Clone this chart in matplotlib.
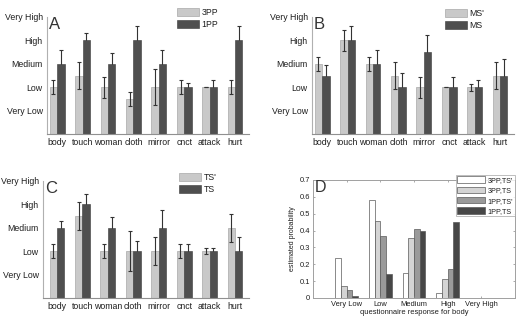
import numpy as np
import matplotlib
matplotlib.use("Agg")
from matplotlib import pyplot as plt
from matplotlib.patches import Patch

plt.rcParams['font.family'] = ['Liberation Sans', 'DejaVu Sans']

items = ["body", "touch", "woman", "cloth", "mirror", "cnct", "attack", "hurt"]
levels = ["Very Low", "Low", "Medium", "High", "Very High"]

# panel A: 3PP vs 1PP
a_3pp = [2, 2.5, 2, 1.5, 2, 2, 2, 2]
a_3pp_err = [0.3, 0.57, 0.45, 0.3, 0.77, 0.3, 0.0, 0.3]
a_1pp = [3, 4, 3, 4, 3, 2, 2, 4]
a_1pp_err = [0.6, 0.3, 0.45, 0.6, 0.6, 0.17, 0.3, 0.6]

# panel B: MS' vs MS
b_msp = [3, 4, 3, 2.5, 2, 2, 2, 2.5]
b_msp_err = [0.3, 0.45, 0.3, 0.57, 0.45, 0.0, 0.15, 0.57]
b_ms = [2.5, 4, 3, 2, 3.5, 2, 2, 2.5]
b_ms_err = [0.43, 0.6, 0.57, 0.6, 0.74, 0.45, 0.3, 0.71]

# panel C: TS' vs TS
c_tsp = [2, 3.5, 2, 2, 2, 2, 2, 3]
c_tsp_err = [0.3, 0.6, 0.3, 0.86, 0.6, 0.3, 0.14, 0.6]
c_ts = [3, 4, 3, 2, 3, 2, 2, 2]
c_ts_err = [0.3, 0.45, 0.45, 0.44, 0.74, 0.3, 0.15, 0.6]

# panel D: estimated probability of each response for "body"
d_labels = ["3PP,TS'", "3PP,TS", "1PP,TS'", "1PP,TS"]
d_3pp_tsp = [0.24, 0.58, 0.15, 0.03, 0.0]
d_3pp_ts = [0.07, 0.455, 0.355, 0.115, 0.0]
d_1pp_tsp = [0.045, 0.365, 0.41, 0.17, 0.0]
d_1pp_ts = [0.012, 0.14, 0.395, 0.45, 0.0]

W, H = 529, 325
light = "#c9c9c9"
dark = "#4f4f4f"
txt = "#1e1e1e"

fig = plt.figure(figsize=(W / 100, H / 100), dpi=100)


def ax_px(left, top, right, bottom):
    return fig.add_axes([left / W, 1 - bottom / H, (right - left) / W, (bottom - top) / H])


def pair_panel(ax, v1, e1, v2, e2, names, letter, leg_xy, xlim):
    x = np.arange(1, len(items) + 1)
    w = 0.29
    ax.bar(x - w / 2, v1, w, color=light, edgecolor="#9a9a9a", linewidth=0.4, zorder=2)
    ax.bar(x + w / 2, v2, w, color=dark, edgecolor="#3a3a3a", linewidth=0.4, zorder=2)
    ax.errorbar(x - w / 2, v1, yerr=e1, fmt="none", ecolor="#333333",
                elinewidth=0.8, capsize=1.5, capthick=0.8, zorder=3)
    # dark bars hide the lower half of their error bars
    ax.errorbar(x + w / 2, v2, yerr=e2, fmt="none", ecolor="#333333",
                elinewidth=0.8, capsize=1.5, capthick=0.8, zorder=1)
    ax.set_xlim(*xlim)
    ax.set_ylim(0, 5)
    ax.set_xticks(x)
    ax.set_xticklabels(items, fontsize=6.3, color=txt)
    ax.set_yticks(range(1, 6))
    ax.set_yticklabels(levels, fontsize=6.3, color=txt)
    ax.tick_params(length=0, pad=3)
    for s in ["top", "right"]:
        ax.spines[s].set_visible(False)
    ax.spines["left"].set_color("#b0b0b0")
    ax.spines["bottom"].set_color("#909090")
    ax.spines["left"].set_linewidth(0.8)
    ax.spines["bottom"].set_linewidth(0.8)
    ax.text(0.01, 1.0, letter, transform=ax.transAxes, fontsize=12,
            color="#333333", ha="left", va="top")
    handles = [Patch(facecolor=light, edgecolor="#9a9a9a", linewidth=0.4),
               Patch(facecolor=dark, edgecolor="#3a3a3a", linewidth=0.4)]
    fig.legend(handles, names, loc="upper left",
               bbox_to_anchor=(leg_xy[0] / W, 1 - leg_xy[1] / H),
               frameon=False, fontsize=6.3, handlelength=2.5, handleheight=0.95,
               handletextpad=0.3, labelspacing=0.35, borderpad=0, borderaxespad=0,
               labelcolor=txt)


axA = ax_px(47, 17, 249, 134)
pair_panel(axA, a_3pp, a_3pp_err, a_1pp, a_1pp_err, ["3PP", "1PP"], "A", (177, 8), (0.6, 8.55))

axB = ax_px(312, 17, 514, 134)
pair_panel(axB, b_msp, b_msp_err, b_ms, b_ms_err, ["MS'", "MS"], "B", (445, 9), (0.6, 8.55))

axC = ax_px(43, 181, 249, 298)
pair_panel(axC, c_tsp, c_tsp_err, c_ts, c_ts_err, ["TS'", "TS"], "C", (179, 173), (0.45, 8.55))

# panel D
axD = ax_px(313, 180, 515, 298)
xd = np.arange(1, len(levels) + 1)
bw = 0.17
series = [d_3pp_tsp, d_3pp_ts, d_1pp_tsp, d_1pp_ts]
cols = ["#ffffff", "#d4d4d4", "#9a9a9a", "#474747"]
for i, (vals, c) in enumerate(zip(series, cols)):
    axD.bar(xd + (i - 1.5) * bw, vals, bw, color=c, edgecolor="#5a5a5a",
            linewidth=0.5, label=d_labels[i])
axD.set_xlim(0, 6)
axD.set_ylim(0, 0.7)
axD.set_xticks(xd)
axD.set_xticklabels(levels, fontsize=5.4, color=txt)
axD.set_yticks(np.arange(0, 0.71, 0.1))
axD.set_yticklabels(["0", "0.1", "0.2", "0.3", "0.4", "0.5", "0.6", "0.7"], fontsize=5.4, color=txt)
axD.tick_params(direction="in", length=1.5, width=0.5, color="#888888", pad=2,
                top=True, right=True)
for s in axD.spines.values():
    s.set_color("#a0a0a0")
    s.set_linewidth(0.7)
axD.set_xlabel("questionnaire response for body", fontsize=5.4, color=txt, labelpad=1)
axD.set_ylabel("estimated probability", fontsize=5.0, color=txt, labelpad=3)
axD.text(0.01, 1.0, "D", transform=axD.transAxes, fontsize=11.5,
         color="#333333", ha="left", va="top")
leg = axD.legend(loc="upper left", bbox_to_anchor=(456 / W, 1 - 175 / H),
                 bbox_transform=fig.transFigure, fontsize=5.2, frameon=True,
                 fancybox=False, handlelength=3.8, handleheight=1.0,
                 handletextpad=0.4, labelspacing=0.35, borderpad=0.2,
                 borderaxespad=0, labelcolor=txt)
leg.get_frame().set_edgecolor("#a0a0a0")
leg.get_frame().set_linewidth(0.6)

fig.savefig("out.png", dpi=100)
